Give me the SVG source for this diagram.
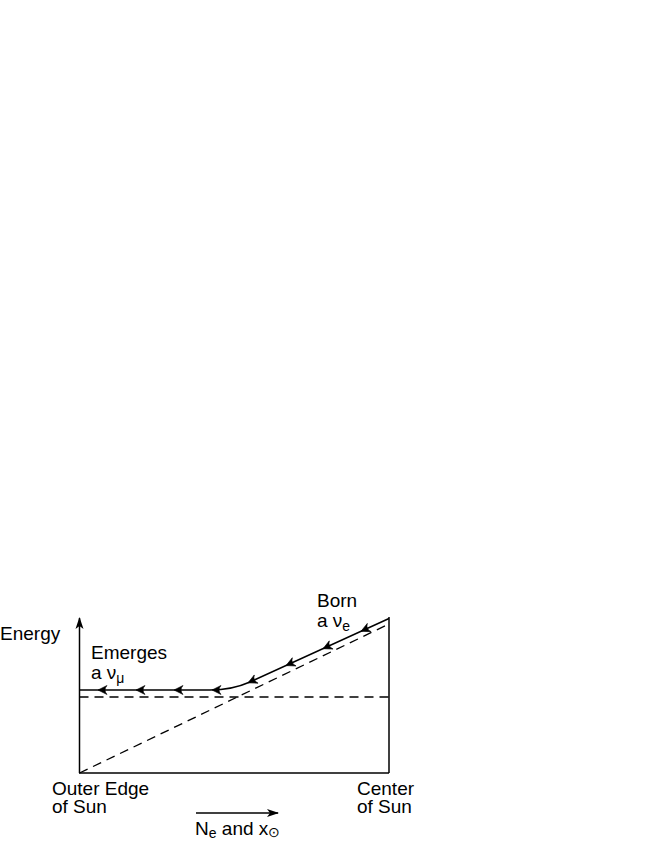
<svg xmlns="http://www.w3.org/2000/svg" width="654" height="846" viewBox="0 0 654 846">
<style>
text{font-family:"Liberation Sans",Arial,sans-serif;font-size:19px;fill:#000}
.s{stroke:#000;stroke-width:1.5;fill:none}
.d{stroke:#000;stroke-width:1.3;fill:none;stroke-dasharray:9,6}
.sub{font-size:14px}
</style>
<defs>
<path id="ah" d="M0,0 L9,-4.5 Q5,0 9,4.5 Z" fill="#000" stroke="#000" stroke-width="0.6" stroke-linejoin="miter"/>
<marker id="arr" viewBox="0 0 12 10" refX="11" refY="5" markerWidth="12" markerHeight="10" markerUnits="userSpaceOnUse" orient="auto">
<path d="M0,1 L12,5 L0,9 L3,5 Z" fill="#000"/>
</marker>
</defs>
<rect width="654" height="846" fill="#fff"/>
<g id="axes">
<line class="s" x1="79.5" y1="773" x2="79.5" y2="618" marker-end="url(#arr)"/>
<line class="s" x1="79" y1="773" x2="389" y2="773"/>
<line class="s" x1="389" y1="773" x2="389" y2="617"/>
</g>
<g id="connectors">
<line class="d" x1="79.5" y1="697" x2="389" y2="697"/>
<line class="d" x1="79.5" y1="773" x2="389" y2="624"/>
<path class="s" d="M79.5,690 L210,690 Q232,690 250,682 L389,618.5"/>
<line class="s" x1="196" y1="813" x2="278" y2="813" marker-end="url(#arr)"/>
</g>
<g id="arrowheads">
<use href="#ah" x="0" y="0" transform="translate(98,690)"/>
<use href="#ah" transform="translate(136,690)"/>
<use href="#ah" transform="translate(174,690)"/>
<use href="#ah" transform="translate(212,690)"/>
<use href="#ah" transform="translate(248,682.8) rotate(-24.6)"/>
<use href="#ah" transform="translate(286,665.6) rotate(-24.6)"/>
<use href="#ah" transform="translate(323,648.7) rotate(-24.6)"/>
<use href="#ah" transform="translate(361,631.3) rotate(-24.6)"/>
</g>
<g id="labels">
<text x="0" y="640">Energy</text>
<text x="91" y="659">Emerges</text>
<text x="91" y="679">a ν<tspan class="sub" dy="4">μ</tspan></text>
<text x="317" y="607">Born</text>
<text x="317" y="627">a ν<tspan class="sub" dy="4">e</tspan></text>
<text x="52" y="795">Outer Edge</text>
<text x="52" y="813">of Sun</text>
<text x="357" y="795">Center</text>
<text x="357" y="813">of Sun</text>
<text x="195" y="835">N<tspan class="sub" dy="3" font-size="17px">e</tspan><tspan dy="-3"> and x</tspan><tspan class="sub" dy="2" font-size="11px">⊙</tspan></text>
</g>
</svg>
